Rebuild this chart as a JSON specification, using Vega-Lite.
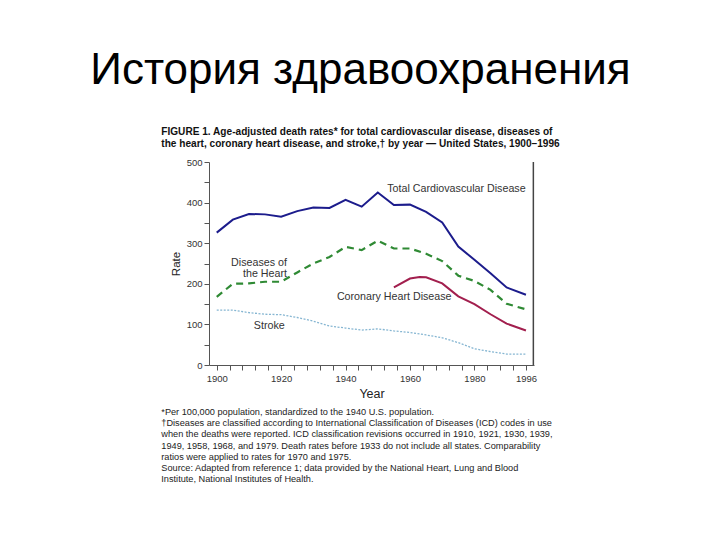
{
  "$schema": "https://vega.github.io/schema/vega-lite/v6.json",
  "padding": {"left": 90, "top": 48, "right": 5, "bottom": 5},
  "background": "white",
  "config": {"font": "Liberation Sans", "view": {"stroke": null}},
  "title": {"text": "История здравоохранения", "fontSize": 44, "fontWeight": "normal", "color": "#000000", "anchor": "middle", "frame": "bounds", "offset": 34},
  "datasets": {
    "series": [
      {"series": "Total Cardiovascular Disease", "year": 1900, "rate": 326},
      {"series": "Total Cardiovascular Disease", "year": 1905, "rate": 358},
      {"series": "Total Cardiovascular Disease", "year": 1910, "rate": 372},
      {"series": "Total Cardiovascular Disease", "year": 1915, "rate": 371},
      {"series": "Total Cardiovascular Disease", "year": 1920, "rate": 365},
      {"series": "Total Cardiovascular Disease", "year": 1925, "rate": 379},
      {"series": "Total Cardiovascular Disease", "year": 1930, "rate": 388},
      {"series": "Total Cardiovascular Disease", "year": 1935, "rate": 387},
      {"series": "Total Cardiovascular Disease", "year": 1940, "rate": 407},
      {"series": "Total Cardiovascular Disease", "year": 1945, "rate": 390},
      {"series": "Total Cardiovascular Disease", "year": 1950, "rate": 425},
      {"series": "Total Cardiovascular Disease", "year": 1955, "rate": 394},
      {"series": "Total Cardiovascular Disease", "year": 1960, "rate": 395},
      {"series": "Total Cardiovascular Disease", "year": 1965, "rate": 377},
      {"series": "Total Cardiovascular Disease", "year": 1970, "rate": 351},
      {"series": "Total Cardiovascular Disease", "year": 1975, "rate": 292},
      {"series": "Total Cardiovascular Disease", "year": 1980, "rate": 259},
      {"series": "Total Cardiovascular Disease", "year": 1985, "rate": 226},
      {"series": "Total Cardiovascular Disease", "year": 1990, "rate": 191},
      {"series": "Total Cardiovascular Disease", "year": 1996, "rate": 173},
      {"series": "Diseases of the Heart", "year": 1900, "rate": 168},
      {"series": "Diseases of the Heart", "year": 1905, "rate": 200},
      {"series": "Diseases of the Heart", "year": 1910, "rate": 201},
      {"series": "Diseases of the Heart", "year": 1915, "rate": 205},
      {"series": "Diseases of the Heart", "year": 1920, "rate": 205},
      {"series": "Diseases of the Heart", "year": 1925, "rate": 228},
      {"series": "Diseases of the Heart", "year": 1930, "rate": 250},
      {"series": "Diseases of the Heart", "year": 1935, "rate": 266},
      {"series": "Diseases of the Heart", "year": 1940, "rate": 291},
      {"series": "Diseases of the Heart", "year": 1945, "rate": 283},
      {"series": "Diseases of the Heart", "year": 1950, "rate": 306},
      {"series": "Diseases of the Heart", "year": 1955, "rate": 287},
      {"series": "Diseases of the Heart", "year": 1960, "rate": 287},
      {"series": "Diseases of the Heart", "year": 1965, "rate": 274},
      {"series": "Diseases of the Heart", "year": 1970, "rate": 256},
      {"series": "Diseases of the Heart", "year": 1975, "rate": 220},
      {"series": "Diseases of the Heart", "year": 1980, "rate": 207},
      {"series": "Diseases of the Heart", "year": 1985, "rate": 185},
      {"series": "Diseases of the Heart", "year": 1990, "rate": 151},
      {"series": "Diseases of the Heart", "year": 1996, "rate": 137},
      {"series": "Coronary Heart Disease", "year": 1955, "rate": 191},
      {"series": "Coronary Heart Disease", "year": 1960, "rate": 213},
      {"series": "Coronary Heart Disease", "year": 1963, "rate": 217},
      {"series": "Coronary Heart Disease", "year": 1965, "rate": 216},
      {"series": "Coronary Heart Disease", "year": 1970, "rate": 201},
      {"series": "Coronary Heart Disease", "year": 1975, "rate": 169},
      {"series": "Coronary Heart Disease", "year": 1980, "rate": 150},
      {"series": "Coronary Heart Disease", "year": 1985, "rate": 125},
      {"series": "Coronary Heart Disease", "year": 1990, "rate": 102},
      {"series": "Coronary Heart Disease", "year": 1996, "rate": 85},
      {"series": "Stroke", "year": 1900, "rate": 135},
      {"series": "Stroke", "year": 1905, "rate": 135},
      {"series": "Stroke", "year": 1910, "rate": 129},
      {"series": "Stroke", "year": 1915, "rate": 125},
      {"series": "Stroke", "year": 1920, "rate": 124},
      {"series": "Stroke", "year": 1925, "rate": 117},
      {"series": "Stroke", "year": 1930, "rate": 108},
      {"series": "Stroke", "year": 1935, "rate": 96},
      {"series": "Stroke", "year": 1940, "rate": 91},
      {"series": "Stroke", "year": 1945, "rate": 86},
      {"series": "Stroke", "year": 1950, "rate": 89},
      {"series": "Stroke", "year": 1955, "rate": 84},
      {"series": "Stroke", "year": 1960, "rate": 80},
      {"series": "Stroke", "year": 1965, "rate": 74},
      {"series": "Stroke", "year": 1970, "rate": 67},
      {"series": "Stroke", "year": 1975, "rate": 55},
      {"series": "Stroke", "year": 1980, "rate": 40},
      {"series": "Stroke", "year": 1985, "rate": 33},
      {"series": "Stroke", "year": 1990, "rate": 27},
      {"series": "Stroke", "year": 1996, "rate": 27}
    ],
    "labels": [
      {"label": "Total Cardiovascular Disease", "year": 1995.9, "rate": 433},
      {"label": "Diseases of\nthe Heart", "year": 1921.8, "rate": 252},
      {"label": "Coronary Heart Disease", "year": 1972.9, "rate": 167},
      {"label": "Stroke", "year": 1921.1, "rate": 96}
    ],
    "frame": [
      {"side": "right", "year": 1998.3, "low": 0, "high": 500}
    ]
  },
  "bounds": "flush",
  "spacing": 42,
  "vconcat": [
    {
      "width": 325,
      "height": 203,
      "title": {
        "text": [
          "FIGURE 1. Age-adjusted death rates* for total cardiovascular disease, diseases of",
          "the heart, coronary heart disease, and stroke,† by year — United States, 1900–1996"
        ],
        "fontSize": 10.1,
        "fontWeight": "bold",
        "color": "#111111",
        "anchor": "start",
        "frame": "group",
        "dx": -47.7,
        "lineHeight": 12,
        "offset": 8
      },
      "layer": [
        {
          "data": {"name": "series"},
          "transform": [{"filter": "datum.series === 'Total Cardiovascular Disease'"}],
          "mark": {"type": "line", "color": "#1c1c8c", "strokeWidth": 2},
          "encoding": {
            "x": {
              "field": "year", "type": "quantitative",
              "scale": {"domain": [1897.6, 1998.5], "nice": false, "zero": false},
              "axis": {
                "title": "Year",
                "values": [1900, 1904, 1908, 1912, 1916, 1920, 1924, 1928, 1932, 1936, 1940, 1944, 1948, 1952, 1956, 1960, 1964, 1968, 1972, 1976, 1980, 1984, 1988, 1992, 1996],
                "tickCount": 40,
                "format": "d",
                "labelExpr": "indexof([1900, 1920, 1940, 1960, 1980, 1996], datum.value) >= 0 ? datum.label : ''",
                "labelOverlap": false,
                "grid": false,
                "tickSize": 5,
                "labelFontSize": 9.5,
                "labelColor": "#333333",
                "labelPadding": 3,
                "labelFlush": false,
                "domainColor": "#555555",
                "tickColor": "#555555",
                "titleFontSize": 12.5,
                "titleFontWeight": "normal",
                "titleColor": "#222222",
                "titlePadding": 5
              }
            },
            "y": {
              "field": "rate", "type": "quantitative",
              "scale": {"domain": [0, 500], "nice": false},
              "axis": {
                "title": "Rate",
                "values": [0, 50, 100, 150, 200, 250, 300, 350, 400, 450, 500],
                "tickCount": 20,
                "labelExpr": "datum.value % 100 === 0 ? datum.label : ''",
                "labelOverlap": false,
                "grid": false,
                "tickSize": 5,
                "labelFontSize": 9.5,
                "labelColor": "#333333",
                "labelPadding": 2,
                "domainColor": "#555555",
                "tickColor": "#555555",
                "titleFontSize": 11.5,
                "titleFontWeight": "normal",
                "titleColor": "#222222",
                "titlePadding": 5
              }
            }
          }
        },
        {
          "data": {"name": "series"},
          "transform": [{"filter": "datum.series === 'Diseases of the Heart'"}],
          "mark": {"type": "line", "color": "#2f8a34", "strokeWidth": 2.2, "strokeDash": [7, 5]},
          "encoding": {
            "x": {"field": "year", "type": "quantitative"},
            "y": {"field": "rate", "type": "quantitative"}
          }
        },
        {
          "data": {"name": "series"},
          "transform": [{"filter": "datum.series === 'Coronary Heart Disease'"}],
          "mark": {"type": "line", "color": "#a21f4e", "strokeWidth": 2},
          "encoding": {
            "x": {"field": "year", "type": "quantitative"},
            "y": {"field": "rate", "type": "quantitative"}
          }
        },
        {
          "data": {"name": "series"},
          "transform": [{"filter": "datum.series === 'Stroke'"}],
          "mark": {"type": "line", "color": "#86b6d2", "strokeWidth": 1.3, "strokeDash": [2, 1.5]},
          "encoding": {
            "x": {"field": "year", "type": "quantitative"},
            "y": {"field": "rate", "type": "quantitative"}
          }
        },
        {
          "data": {"name": "labels"},
          "mark": {"type": "text", "fontSize": 10.7, "color": "#333333", "align": "right", "baseline": "middle", "lineBreak": "\n", "lineHeight": 11.6},
          "encoding": {
            "x": {"field": "year", "type": "quantitative"},
            "y": {"field": "rate", "type": "quantitative"},
            "text": {"field": "label"}
          }
        },
        {
          "data": {"name": "frame"},
          "mark": {"type": "rule", "color": "#444444", "strokeWidth": 1.5},
          "encoding": {
            "x": {"field": "year", "type": "quantitative"},
            "y": {"field": "low", "type": "quantitative"},
            "y2": {"field": "high"}
          }
        }
      ]
    },
    {
      "width": 300,
      "height": 1,
      "data": {"values": []},
      "mark": {"type": "text"},
      "encoding": {},
      "title": {
        "text": [
          "*Per 100,000 population, standardized to the 1940 U.S. population.",
          "†Diseases are classified according to International Classification of Diseases (ICD) codes in use",
          "\u00a0\u00a0when the deaths were reported. ICD classification revisions occurred in 1910, 1921, 1930, 1939,",
          "\u00a0\u00a01949, 1958, 1968, and 1979. Death rates before 1933 do not include all states. Comparability",
          "\u00a0\u00a0ratios were applied to rates for 1970 and 1975.",
          "Source: Adapted from reference 1; data provided by the National Heart, Lung and Blood",
          "Institute, National Institutes of Health."
        ],
        "orient": "bottom",
        "fontSize": 9.2,
        "fontWeight": "normal",
        "color": "#222222",
        "anchor": "start",
        "frame": "group",
        "dx": -47.7,
        "lineHeight": 11.2,
        "offset": 0
      }
    }
  ]
}
